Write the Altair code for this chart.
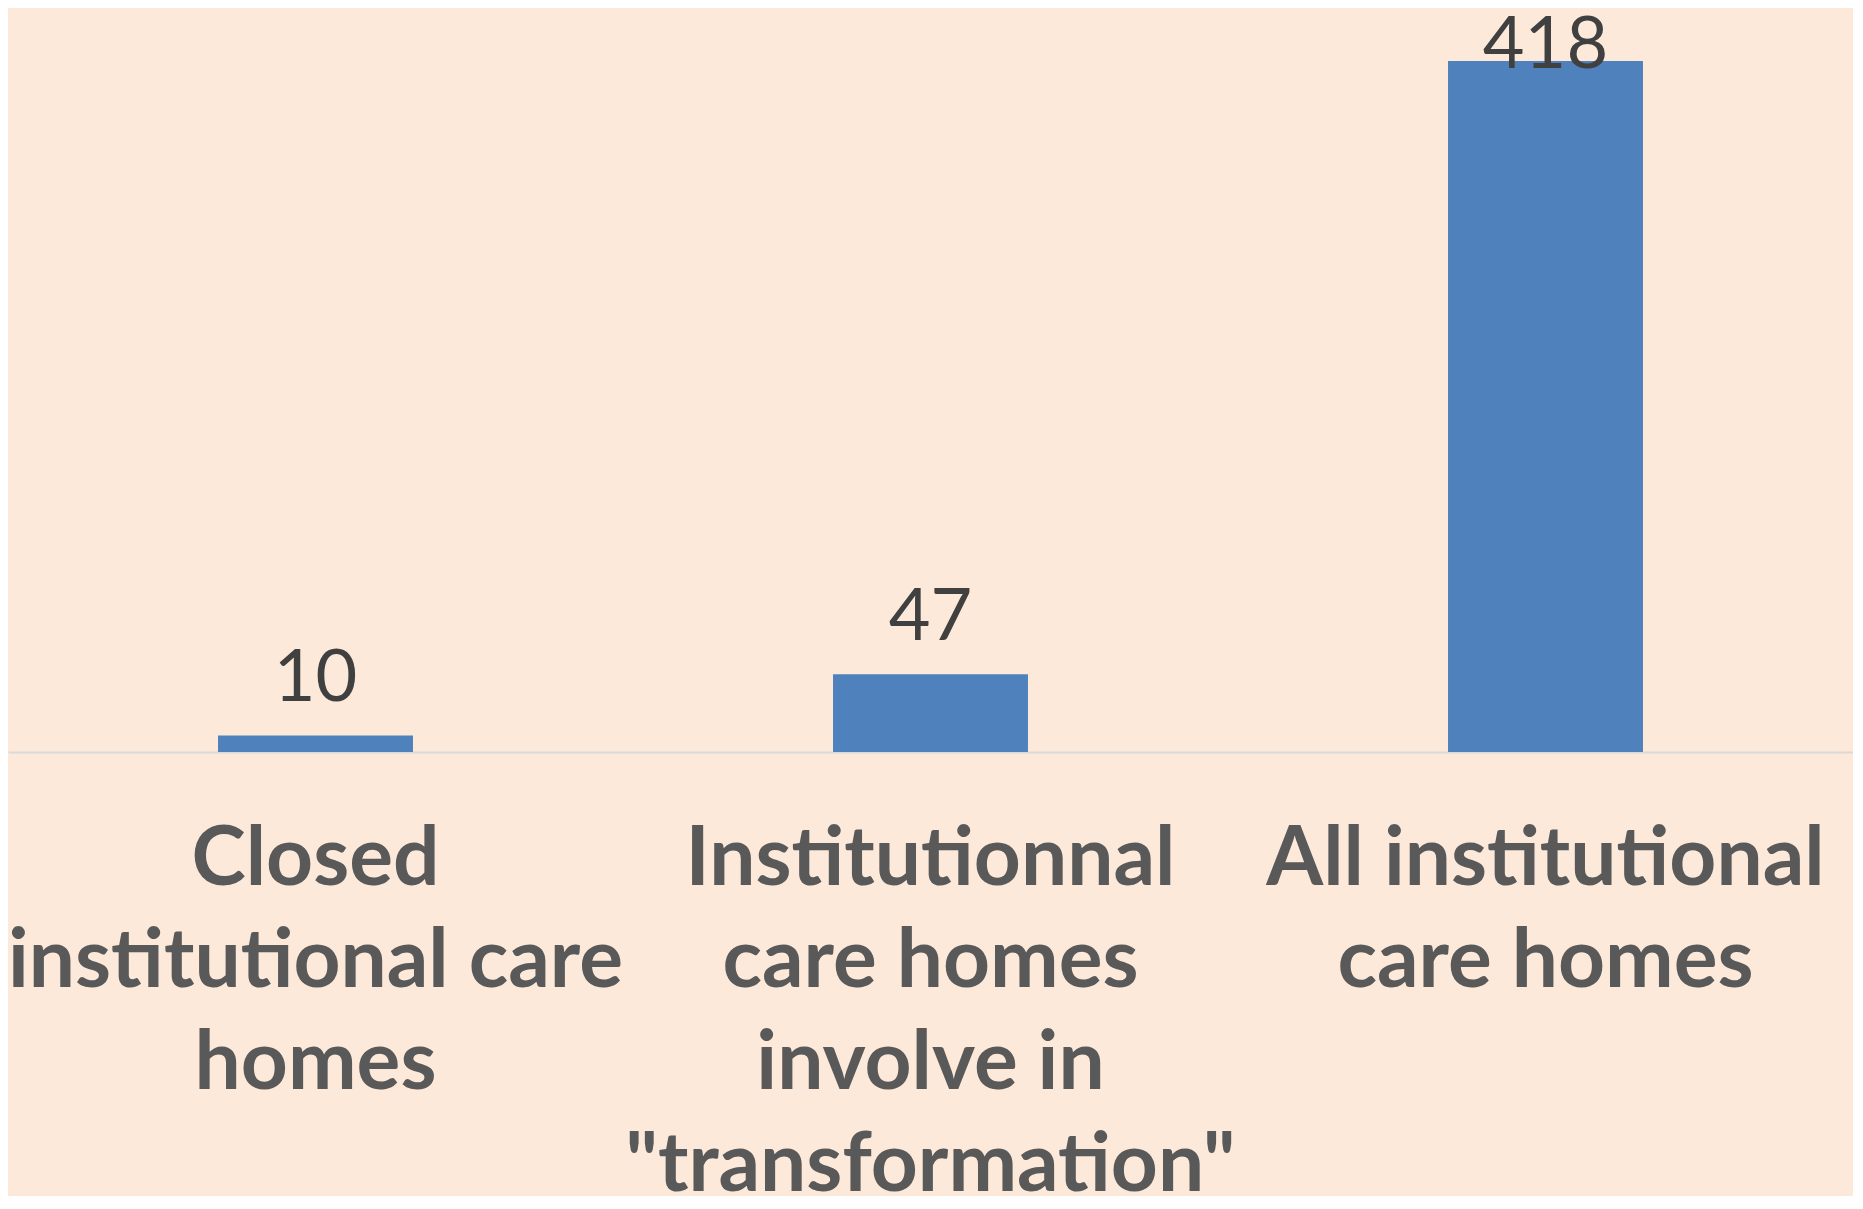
import altair as alt
import pandas as pd

categories = [
    "Closed|institutional care|homes",
    "Institutionnal|care homes|involve in|\"transformation\"",
    "All institutional|care homes",
]
values = [10, 47, 418]

df = pd.DataFrame({"category": categories, "value": values})

BG = "#FDE9D9"
p_in = 0.683

x = alt.X(
    "category:N",
    sort=categories,
    title=None,
    scale=alt.Scale(paddingInner=p_in, paddingOuter=p_in / 2),
    axis=alt.Axis(
        labelExpr="split(datum.label, '|')",
        labelAngle=0,
        labelFont="Lato",
        labelFontWeight="bold",
        labelFontSize=82,
        labelColor="#595959",
        labelLineHeight=102,
        labelPadding=67,
        labelBaseline="top",
        labelAlign="center",
        labelLimit=0,
        ticks=False,
        domainColor="#D9D9D9",
        domainWidth=2,
        grid=False,
    ),
)

y_scale = alt.Scale(domain=[0, 450], nice=False, zero=True)

base = alt.Chart(df)

bars = base.mark_bar(color="#4F81BD").encode(
    x=x,
    y=alt.Y("value:Q", scale=y_scale, axis=None),
)

labels = base.transform_calculate(
    labelY="min(datum.value + 21, 414)"
).mark_text(
    font="Lato", fontSize=72, color="#404040", baseline="alphabetic", align="center"
).encode(
    x=alt.X("category:N", sort=categories),
    y=alt.Y("labelY:Q", scale=y_scale, axis=None),
    text=alt.Text("value:Q"),
)

chart = (
    alt.layer(bars, labels)
    .properties(
        width=1845,
        height=744,
        background=BG,
        autosize=alt.AutoSizeParams(type="none"),
        padding={"left": 0, "top": 0, "right": 0, "bottom": 444},
    )
    .configure_view(stroke=None)
)

chart.save("out.html", embed_options={"renderer": "svg", "actions": False})
